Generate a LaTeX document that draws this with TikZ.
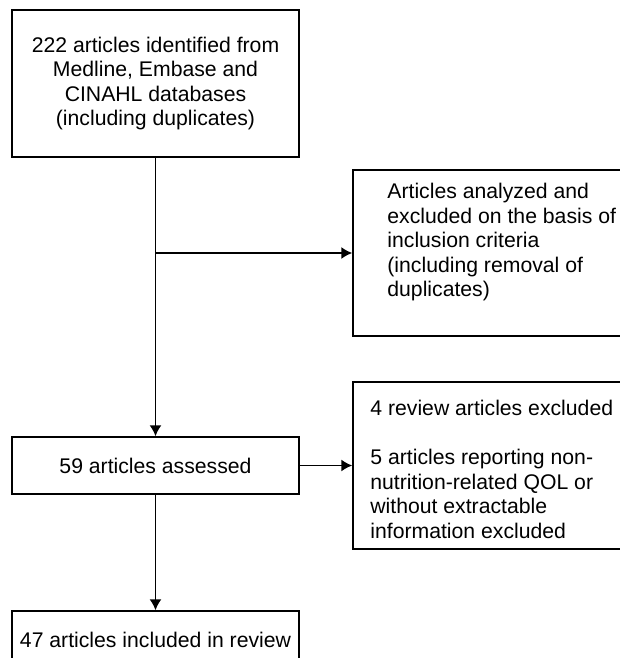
\documentclass[tikz,border=0pt]{standalone}
\usepackage{fontspec}
\setmainfont{Liberation Sans}
\usetikzlibrary{arrows.meta,positioning,calc}

\tikzset{
  box/.style={draw, line width=0.75pt, minimum width=143.5pt, inner sep=0pt},
  txt/.style={align=left, inner sep=0pt, anchor=north west},
  arr/.style={line width=0.75pt, -{Latex[length=5.5pt,width=6pt]}}
}

\begin{document}
\begin{tikzpicture}[x=0.5pt, y=-0.5pt, font=\fontsize{10.6}{12.25}\selectfont]
    \useasboundingbox (0,0) rectangle (620,658);
    \clip (0,0) rectangle (620,658);

    \node[box, minimum height=73.5pt, align=center] (found) at (155.5,83.5) {222 articles identified from\\Medline, Embase and\\CINAHL databases\\(including duplicates)};
    \node[box, minimum height=28.5pt] (assessed) at (155.5,465.5) {59 articles assessed};
    \node[box, minimum height=28.5pt] (included) at (155.5,639.5) {47 articles included in review};
    \node[box, minimum height=83pt] (excla) at (496.5,253) {};
    \node[box, minimum height=83.5pt] (exclb) at (496.5,465.5) {};

    \node[txt] (exclatxt) at (387,183) {Articles analyzed and\\excluded on the basis of\\inclusion criteria\\(including removal of\\duplicates)};
    \node[txt] (exclbtxt) at (370,400) {4 review articles excluded\\[12.25pt]5 articles reporting non-\\nutrition-related QOL or\\without extractable\\information excluded};

    \draw[arr] (found) -- (assessed);
    \draw[arr] (found.south |- excla.west) -- (excla);
    \draw[arr] (assessed) -- (exclb);
    \draw[arr] (assessed) -- (included);
\end{tikzpicture}
\end{document}
